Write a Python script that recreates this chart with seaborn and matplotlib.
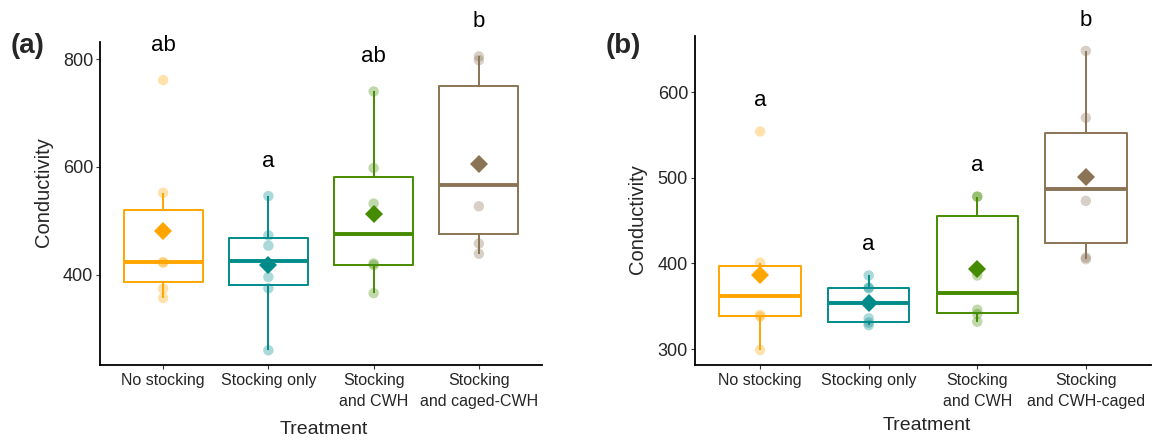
import numpy as np
import pandas as pd
import matplotlib
matplotlib.use("Agg")
import matplotlib.pyplot as plt
import seaborn as sns

treat_a = ["No stocking", "Stocking only", "Stocking\nand CWH", "Stocking\nand caged-CWH"]
treat_b = ["No stocking", "Stocking only", "Stocking\nand CWH", "Stocking\nand CWH-caged"]

# conductivity readings per treatment, panel (a)
a_none = [357, 374, 423, 423, 552, 761]
a_stock = [260, 375, 396, 454, 473, 546]
a_cwh = [366, 418, 421, 532, 598, 740]
a_caged = [439, 458, 527, 607, 798, 805]

# panel (b)
b_none = [299, 338, 340, 385, 401, 554]
b_stock = [328, 331, 336, 371, 372, 386]
b_cwh = [332, 341, 346, 386, 478, 478]
b_caged = [405, 407, 473, 500, 570, 648]

letters_a = ["ab", "a", "ab", "b"]
letters_b = ["a", "a", "a", "b"]

yticks_a = [400, 600, 800]
yticks_b = [300, 400, 500, 600]

colors = ["#FFA500", "#008B8B", "#458B00", "#8B7355"]

sns.set_theme(style="ticks")
plt.rcParams["font.family"] = ["Liberation Sans", "DejaVu Sans"]


def panel(ax, labels, groups, letters, yticks, offset):
    df = pd.DataFrame({
        "Treatment": np.repeat(labels, [len(g) for g in groups]),
        "Conductivity": np.concatenate(groups),
    })
    pal = dict(zip(labels, colors))
    sns.boxplot(data=df, x="Treatment", y="Conductivity", hue="Treatment",
                palette=pal, fill=False, width=0.75, showfliers=False,
                showcaps=False, linewidth=1.4, whis=1.5,
                medianprops=dict(linewidth=2.8), legend=False, ax=ax)
    sns.stripplot(data=df, x="Treatment", y="Conductivity", hue="Treatment",
                  palette=pal, jitter=False, size=7.5, alpha=0.33,
                  linewidth=0, legend=False, ax=ax)
    sns.pointplot(data=df, x="Treatment", y="Conductivity", hue="Treatment",
                  palette=pal, estimator="mean", errorbar=None, markers="D",
                  linestyles="none", markersize=9, markeredgewidth=0,
                  legend=False, ax=ax)

    # significance letters above each group
    for i, g in enumerate(groups):
        ax.text(i, max(g) + offset, letters[i], ha="center", va="center",
                fontsize=16, color="black", clip_on=False)

    lo = min(min(g) for g in groups)
    hi = max(max(g) for g in groups)
    pad = 0.05 * (hi - lo)
    ax.set_ylim(lo - pad, hi + pad)
    ax.set_xlim(-0.6, 3.6)
    ax.set_yticks(yticks)
    ax.set_xticks(range(len(labels)))
    ax.set_xticklabels(labels, fontsize=11.5, linespacing=1.45)
    ax.tick_params(axis="y", labelsize=13, length=3, width=0.8, pad=2, color="#333333")
    ax.tick_params(axis="x", length=3, width=0.8, pad=3, color="#333333")
    ax.set_xlabel("")
    ax.set_ylabel("")
    sns.despine(ax=ax)
    for s in ["left", "bottom"]:
        ax.spines[s].set_linewidth(1.3)
        ax.spines[s].set_color("black")


fig = plt.figure(figsize=(11.52, 4.43), dpi=100)
ax1 = fig.add_axes([0.0868, 0.1761, 0.3837, 0.7298])
ax2 = fig.add_axes([0.6033, 0.1761, 0.3958, 0.7427])

panel(ax1, treat_a, [a_none, a_stock, a_cwh, a_caged], letters_a, yticks_a, 64)
panel(ax2, treat_b, [b_none, b_stock, b_cwh, b_caged], letters_b, yticks_b, 36)

W, H = 1152, 443
fig.text(28 / W, 1 - 46 / H, "(a)", fontsize=20, fontweight="bold", ha="center", va="center")
fig.text(623 / W, 1 - 46 / H, "(b)", fontsize=20, fontweight="bold", ha="center", va="center")
fig.text(43 / W, 1 - 192 / H, "Conductivity", fontsize=14.5, rotation=90, ha="center", va="center")
fig.text(638 / W, 1 - 219 / H, "Conductivity", fontsize=14.5, rotation=90, ha="center", va="center")
fig.text(324 / W, 1 - 429 / H, "Treatment", fontsize=14, ha="center", va="center")
fig.text(927 / W, 1 - 425 / H, "Treatment", fontsize=14, ha="center", va="center")

fig.savefig("out.png", dpi=100)
